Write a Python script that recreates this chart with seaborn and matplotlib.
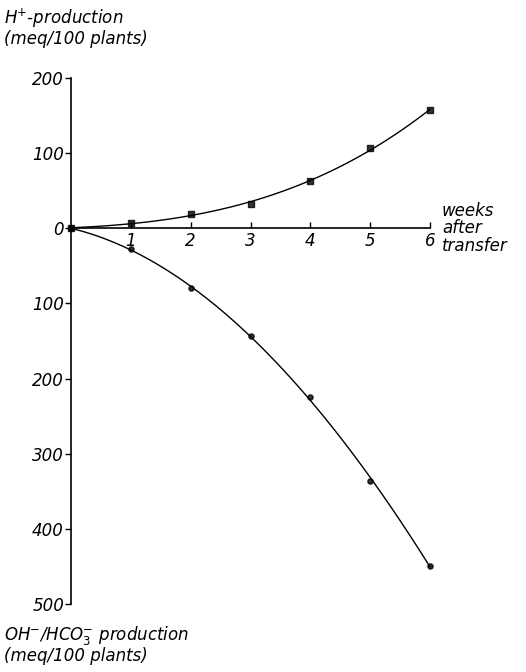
import matplotlib
matplotlib.use("Agg")
import matplotlib.pyplot as plt
import seaborn as sns
import pandas as pd
from matplotlib.ticker import FuncFormatter

weeks = [0, 1, 2, 3, 4, 5, 6]
h_production = [0, 7, 19, 32, 63, 107, 157]
oh_production = [0, -28, -80, -143, -225, -336, -449]
y_ticks = [200, 100, 0, -100, -200, -300, -400, -500]
x_ticks = [1, 2, 3, 4, 5, 6]

sns.set_style("white")
plt.rcParams['font.family'] = ['DejaVu Sans']
plt.rcParams['text.color'] = 'black'
plt.rcParams['xtick.color'] = 'black'
plt.rcParams['ytick.color'] = 'black'

df = pd.DataFrame({"week": weeks, "h": h_production, "oh": oh_production})

fig = plt.figure(figsize=(5.26, 6.72), dpi=100)
ax = fig.add_axes([0.135, 0.101, 0.6825, 0.783])

sns.regplot(data=df, x="week", y="h", order=3, ci=None, ax=ax, color="black",
            marker="s", scatter_kws={"s": 14, "clip_on": False, "zorder": 3},
            line_kws={"lw": 1.0, "clip_on": False})
sns.regplot(data=df, x="week", y="oh", order=3, ci=None, ax=ax, color="black",
            marker="o", scatter_kws={"s": 14, "clip_on": False, "zorder": 3},
            line_kws={"lw": 1.0, "clip_on": False})

ax.set_xlim(0, 6)
ax.set_ylim(-500, 200)
ax.set_xlabel("")
ax.set_ylabel("")
for s in ["top", "right"]:
    ax.spines[s].set_visible(False)
ax.spines["bottom"].set_position(("data", 0))
ax.spines["left"].set_position(("data", 0))
for s in ["bottom", "left"]:
    ax.spines[s].set_color("black")
    ax.spines[s].set_linewidth(1.2)

ax.set_yticks(y_ticks)
ax.yaxis.set_major_formatter(FuncFormatter(lambda v, p: f"{abs(int(v))}"))
ax.set_xticks(x_ticks)
ax.tick_params(axis="y", direction="out", length=4, width=1, color="black",
               left=True, labelsize=12, pad=1, labelcolor="black")
ax.tick_params(axis="x", direction="in", length=4, width=1, color="black",
               bottom=True, labelsize=12, pad=3, labelcolor="black")
for lab in ax.get_yticklabels() + ax.get_xticklabels():
    lab.set_style("italic")

fig.text(0.008, 0.99, "H$^{+}$-production\n(meq/100 plants)", ha="left", va="top",
         fontsize=12, style="italic", linespacing=1.0, color="black")
fig.text(0.008, 0.072, "OH$^{-}$/HCO$_3^{-}$ production\n(meq/100 plants)", ha="left",
         va="top", fontsize=12, style="italic", linespacing=1.0, color="black")
ax.text(6.2, 0, "weeks\nafter\ntransfer", ha="left", va="center", fontsize=12,
        style="italic", linespacing=0.95, color="black")

fig.savefig("out.png", dpi=100)
